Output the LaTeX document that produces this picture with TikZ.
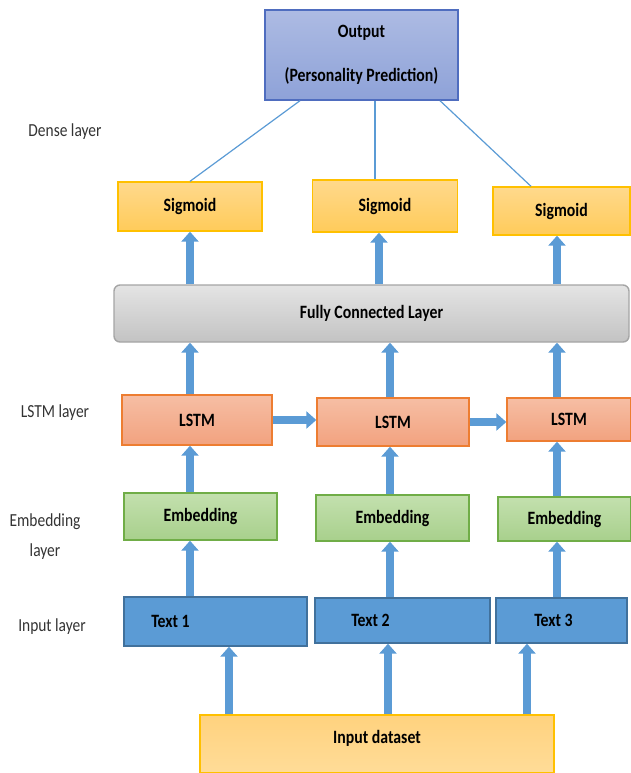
\documentclass[tikz,border=0pt]{standalone}
\usepackage{fontspec}
\setmainfont{Carlito}
\newfontfamily\narrowfont[FakeStretch=0.84]{Carlito}
\usetikzlibrary{arrows.meta}

\definecolor{outtop}{HTML}{ADBBE3}
\definecolor{outbot}{HTML}{8EA2D8}
\definecolor{outedge}{HTML}{4F6DBF}
\definecolor{sigtop}{HTML}{FFD98C}
\definecolor{sigbot}{HTML}{FFCB5A}
\definecolor{sigedge}{HTML}{FFC000}
\definecolor{fctop}{HTML}{E4E4E4}
\definecolor{fcbot}{HTML}{C3C3C3}
\definecolor{fcedge}{HTML}{A5A5A5}
\definecolor{lstmtop}{HTML}{F6BEA4}
\definecolor{lstmbot}{HTML}{F2A27F}
\definecolor{lstmedge}{HTML}{ED7D31}
\definecolor{embtop}{HTML}{C3E0AE}
\definecolor{embbot}{HTML}{A8D08C}
\definecolor{embedge}{HTML}{70AD47}
\definecolor{txtfill}{HTML}{5B9BD5}
\definecolor{txtedge}{HTML}{41719C}
\definecolor{datatop}{HTML}{FFD27E}
\definecolor{databot}{HTML}{FFDC98}
\definecolor{arrowblue}{HTML}{5B9BD5}

\tikzset{
  boxfont/.style={font=\narrowfont\bfseries\fontsize{9.4}{11}\selectfont},
  layerbox/.style={draw, line width=0.7pt, inner sep=0pt, boxfont},
  outbox/.style={layerbox, draw=outedge, top color=outtop, bottom color=outbot},
  sigbox/.style={layerbox, draw=sigedge, top color=sigtop, bottom color=sigbot},
  fcbox/.style={layerbox, draw=fcedge, top color=fctop, bottom color=fcbot,
    rounded corners=3pt},
  lstmbox/.style={layerbox, draw=lstmedge, top color=lstmtop, bottom color=lstmbot},
  embbox/.style={layerbox, draw=embedge, top color=embtop, bottom color=embbot},
  txtbox/.style={layerbox, draw=txtedge, fill=txtfill},
  databox/.style={layerbox, draw=sigedge, top color=datatop, bottom color=databot},
  fatarrow/.style={arrowblue, line width=4pt,
    -{Triangle[width=8.5pt,length=5pt]}},
  thinline/.style={draw=arrowblue, line width=0.6pt},
  layername/.style={font=\narrowfont\fontsize{9.2}{11}\selectfont, text=black!80, align=center},
}

\begin{document}
\begin{tikzpicture}[x=0.5pt, y=-0.5pt]
  \useasboundingbox (0,0) rectangle (631,773);

  % layer names on the left
  \node[layername] (ldense) at (65,132) {Dense layer};
  \node[layername] (llstm) at (55,413) {LSTM layer};
  \node[layername] (lemb) at (45,537) {Embedding\\[4pt]layer};
  \node[layername] (linput) at (52,627) {Input layer};

  % output
  \node[outbox, minimum width=96.5pt, minimum height=45pt, align=center]
    (out) at (361.5,55) {Output\\[11pt](Personality Prediction)};

  % dense layer
  \node[sigbox, minimum width=72pt, minimum height=24.5pt] (sig1) at (190,206.5) {Sigmoid};
  \node[sigbox, minimum width=72.5pt, minimum height=26pt] (sig2) at (385,206) {Sigmoid};
  \node[sigbox, minimum width=68.5pt, minimum height=24pt] (sig3) at (561.5,211) {Sigmoid};

  \node[fcbox, minimum width=257.5pt, minimum height=28.5pt] (fc) at (371.5,313.5) {Fully Connected Layer};

  % lstm layer
  \node[lstmbox, minimum width=75pt, minimum height=25pt] (lstm1) at (197,420) {LSTM};
  \node[lstmbox, minimum width=76pt, minimum height=24pt] (lstm2) at (393,422) {LSTM};
  \node[lstmbox, minimum width=62pt, minimum height=21.5pt] (lstm3) at (569,419.5) {LSTM};

  % embedding layer
  \node[embbox, minimum width=76.5pt, minimum height=23.5pt] (emb1) at (200.5,516.5) {Embedding};
  \node[embbox, minimum width=76.5pt, minimum height=23pt] (emb2) at (392.5,518) {Embedding};
  \node[embbox, minimum width=66.5pt, minimum height=22pt] (emb3) at (564.5,519) {Embedding};

  % input layer
  \node[txtbox, minimum width=91.5pt, minimum height=24.5pt,
    label={[boxfont, xshift=-22.5pt]center:Text 1}] (txt1) at (215.5,621.5) {};
  \node[txtbox, minimum width=87.5pt, minimum height=22.5pt,
    label={[boxfont, xshift=-16pt]center:Text 2}] (txt2) at (402.5,620.5) {};
  \node[txtbox, minimum width=65.5pt, minimum height=22.5pt,
    label={[boxfont, xshift=-4pt]center:Text 3}] (txt3) at (561.5,620.5) {};

  \node[databox, minimum width=177pt, minimum height=29pt] (data) at (377,744) {};
  \node[boxfont] (datatext) at (377,738) {Input dataset};

  % arrow columns
  \coordinate (ca) at (229,0);
  \coordinate (cb) at (388,0);
  \coordinate (cc) at (527,0);
  \coordinate (c1) at (190,0);
  \coordinate (c2) at (390,0);
  \coordinate (c3) at (557,0);
  \coordinate (d2) at (379,0);

  \draw[fatarrow] (ca |- data.north) -- (ca |- txt1.south);
  \draw[fatarrow] (cb |- data.north) -- (cb |- txt2.south);
  \draw[fatarrow] (cc |- data.north) -- (cc |- txt3.south);

  \draw[fatarrow] (c1 |- txt1.north) -- (c1 |- emb1.south);
  \draw[fatarrow] (c2 |- txt2.north) -- (c2 |- emb2.south);
  \draw[fatarrow] (c3 |- txt3.north) -- (c3 |- emb3.south);

  \draw[fatarrow] (c1 |- emb1.north) -- (c1 |- lstm1.south);
  \draw[fatarrow] (c2 |- emb2.north) -- (c2 |- lstm2.south);
  \draw[fatarrow] (c3 |- emb3.north) -- (c3 |- lstm3.south);

  \draw[fatarrow] (lstm1.east) -- (lstm2.west |- lstm1.east);
  \draw[fatarrow] (lstm2.east) -- (lstm3.west |- lstm2.east);

  \draw[fatarrow] (c1 |- lstm1.north) -- (c1 |- fc.south);
  \draw[fatarrow] (c2 |- lstm2.north) -- (c2 |- fc.south);
  \draw[fatarrow] (c3 |- lstm3.north) -- (c3 |- fc.south);

  \draw[fatarrow] (c1 |- fc.north) -- (c1 |- sig1.south);
  \draw[fatarrow] (d2 |- fc.north) -- (d2 |- sig2.south);
  \draw[fatarrow] (c3 |- fc.north) -- (c3 |- sig3.south);

  % dense connections to the output
  \draw[thinline] ([xshift=-30.75pt]out.south) -- (sig1.north);
  \draw[thinline] ([xshift=6.75pt]out.south) -- ([xshift=-5pt]sig2.north);
  \draw[thinline] ([xshift=39.25pt]out.south) -- ([xshift=-15.25pt]sig3.north);
\end{tikzpicture}
\end{document}
